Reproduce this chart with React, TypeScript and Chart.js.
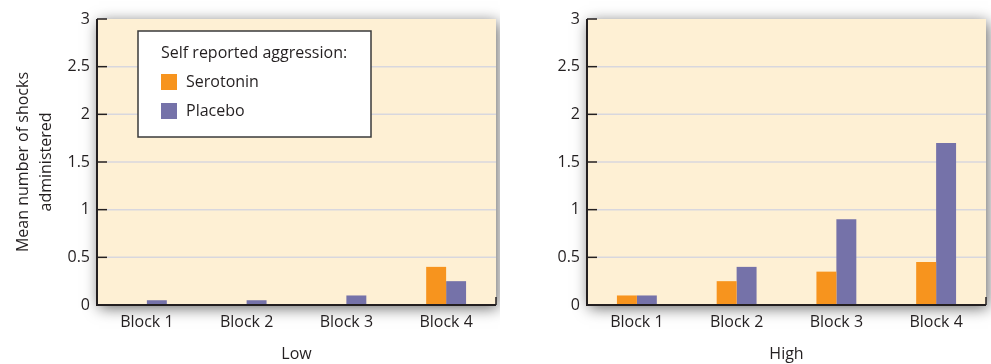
import React, { useEffect, useRef } from 'react';
import { Chart, registerables } from 'chart.js';

Chart.register(...registerables);

// ---- data ----
const categories = ['Block 1', 'Block 2', 'Block 3', 'Block 4'];
const seriesNames = ['Serotonin', 'Placebo'];
const lowSerotonin = [0, 0, 0, 0.4];
const lowPlacebo = [0.05, 0.05, 0.1, 0.25];
const highSerotonin = [0.1, 0.25, 0.35, 0.45];
const highPlacebo = [0.1, 0.4, 0.9, 1.7];
const groupLabels = ['Low', 'High'];
const yAxisTitle = ['Mean number of shocks', 'administered'];
const legendTitle = 'Self reported aggression:';
const yMin = 0;
const yMax = 3;
const yStep = 0.5;

// ---- styles ----
const ORANGE = '#F7941E';
const PURPLE = '#7572A9';
const PLOT_BG = '#FEF0D4';
const INK = '#231F20';
const GRID = '#D8D7DE';
const FONT = "'Open Sans', sans-serif";

const framePlugin = {
  id: 'frame',
  beforeDraw(chart: any) {
    const { ctx, chartArea: a } = chart;
    ctx.save();
    ctx.shadowColor = 'rgba(0,0,0,0.6)';
    ctx.shadowBlur = 14;
    ctx.shadowOffsetX = 2;
    ctx.shadowOffsetY = 3;
    ctx.fillStyle = PLOT_BG;
    ctx.fillRect(a.left, a.top, a.right - a.left, a.bottom - a.top);
    ctx.restore();
    const y = chart.scales.y;
    ctx.save();
    ctx.strokeStyle = GRID;
    ctx.lineWidth = 1.5;
    y.ticks.forEach((t: any) => {
      if (t.value <= yMin || t.value >= yMax) return;
      const py = y.getPixelForValue(t.value);
      ctx.beginPath();
      ctx.moveTo(a.left + 10, py);
      ctx.lineTo(a.right, py);
      ctx.stroke();
    });
    ctx.restore();
  },
  afterDatasetsDraw(chart: any, _args: any, opts: any) {
    const { ctx, chartArea: a } = chart;
    const y = chart.scales.y;
    ctx.save();
    ctx.strokeStyle = INK;
    ctx.lineWidth = 1.5;
    y.ticks.forEach((t: any) => {
      const py = y.getPixelForValue(t.value);
      ctx.beginPath();
      ctx.moveTo(a.left, py);
      ctx.lineTo(a.left + 10, py);
      ctx.stroke();
    });
    ctx.beginPath();
    ctx.moveTo(a.right, a.bottom);
    ctx.lineTo(a.right, a.bottom - 8);
    ctx.stroke();
    ctx.lineWidth = 2;
    ctx.beginPath();
    ctx.moveTo(a.left, a.top);
    ctx.lineTo(a.left, a.bottom);
    ctx.lineTo(a.right, a.bottom);
    ctx.stroke();
    ctx.restore();

    if (opts && opts.showLegend) {
      const bx = a.left + 41;
      const by = a.top + 12;
      const bw = 233;
      const bh = 106;
      ctx.save();
      ctx.fillStyle = '#ffffff';
      ctx.fillRect(bx, by, bw, bh);
      ctx.strokeStyle = '#3a3a3a';
      ctx.lineWidth = 1.5;
      ctx.strokeRect(bx, by, bw, bh);
      ctx.font = `16px ${FONT}`;
      ctx.fillStyle = INK;
      ctx.textBaseline = 'middle';
      ctx.textAlign = 'left';
      ctx.fillText(legendTitle, bx + 23, by + 22);
      chart.data.datasets.forEach((ds: any, i: number) => {
        const cy = by + 51 + i * 29;
        ctx.fillStyle = ds.backgroundColor;
        ctx.fillRect(bx + 23, cy - 8, 16, 16);
        ctx.fillStyle = INK;
        ctx.fillText(ds.label, bx + 48, cy);
      });
      ctx.restore();
    }
  },
};

function makeConfig(
  serotonin: number[],
  placebo: number[],
  groupLabel: string,
  yWidth: number,
  rightPad: number,
  showYTitle: boolean,
  showLegend: boolean
): any {
  return {
    type: 'bar',
    data: {
      labels: categories,
      datasets: [
        { label: seriesNames[0], data: serotonin, backgroundColor: ORANGE, borderWidth: 0 },
        { label: seriesNames[1], data: placebo, backgroundColor: PURPLE, borderWidth: 0 },
      ],
    },
    plugins: [framePlugin],
    options: {
      animation: false,
      responsive: false,
      maintainAspectRatio: false,
      layout: { padding: { top: 19, right: rightPad, left: 0, bottom: 0 } },
      datasets: { bar: { categoryPercentage: 0.4, barPercentage: 1 } },
      plugins: {
        legend: { display: false },
        tooltip: { enabled: false },
        frame: { showLegend },
      },
      scales: {
        x: {
          grid: { display: false, drawTicks: false },
          border: { display: false },
          ticks: { color: INK, font: { family: FONT, size: 16 }, padding: 8, maxRotation: 0 },
          title: {
            display: true,
            text: groupLabel,
            color: INK,
            font: { family: FONT, size: 16 },
            padding: { top: 0, bottom: 0 },
          },
          afterFit: (s: any) => {
            s.height = 59;
          },
        },
        y: {
          min: yMin,
          max: yMax,
          grid: { display: false, drawTicks: false },
          border: { display: false },
          ticks: {
            stepSize: yStep,
            color: INK,
            font: { family: FONT, size: 16 },
            padding: 7,
            callback: (v: any) => String(v),
          },
          title: {
            display: showYTitle,
            text: yAxisTitle,
            color: INK,
            font: { family: FONT, size: 16, lineHeight: 1.44 },
            padding: { top: 11.5, bottom: 0 },
          },
          afterFit: (s: any) => {
            s.width = yWidth;
          },
        },
      },
    },
  };
}

function Panel(props: {
  serotonin: number[];
  placebo: number[];
  groupLabel: string;
  width: number;
  yWidth: number;
  rightPad: number;
  showYTitle: boolean;
  showLegend: boolean;
}) {
  const ref = useRef<HTMLCanvasElement>(null);
  useEffect(() => {
    if (!ref.current) return;
    const chart = new Chart(
      ref.current,
      makeConfig(
        props.serotonin,
        props.placebo,
        props.groupLabel,
        props.yWidth,
        props.rightPad,
        props.showYTitle,
        props.showLegend
      )
    );
    return () => chart.destroy();
  }, []);
  return (
    <canvas
      ref={ref}
      width={props.width}
      height={364}
      style={{ display: 'block', width: props.width, height: 364 }}
    />
  );
}

export default function App() {
  return (
    <div
      style={{
        position: 'absolute',
        left: 0,
        top: 0,
        width: 991,
        height: 364,
        background: '#ffffff',
        display: 'flex',
      }}
    >
      <Panel
        serotonin={lowSerotonin}
        placebo={lowPlacebo}
        groupLabel={groupLabels[0]}
        width={500}
        yWidth={97}
        rightPad={4}
        showYTitle={true}
        showLegend={true}
      />
      <Panel
        serotonin={highSerotonin}
        placebo={highPlacebo}
        groupLabel={groupLabels[1]}
        width={491}
        yWidth={87}
        rightPad={5}
        showYTitle={false}
        showLegend={false}
      />
    </div>
  );
}
